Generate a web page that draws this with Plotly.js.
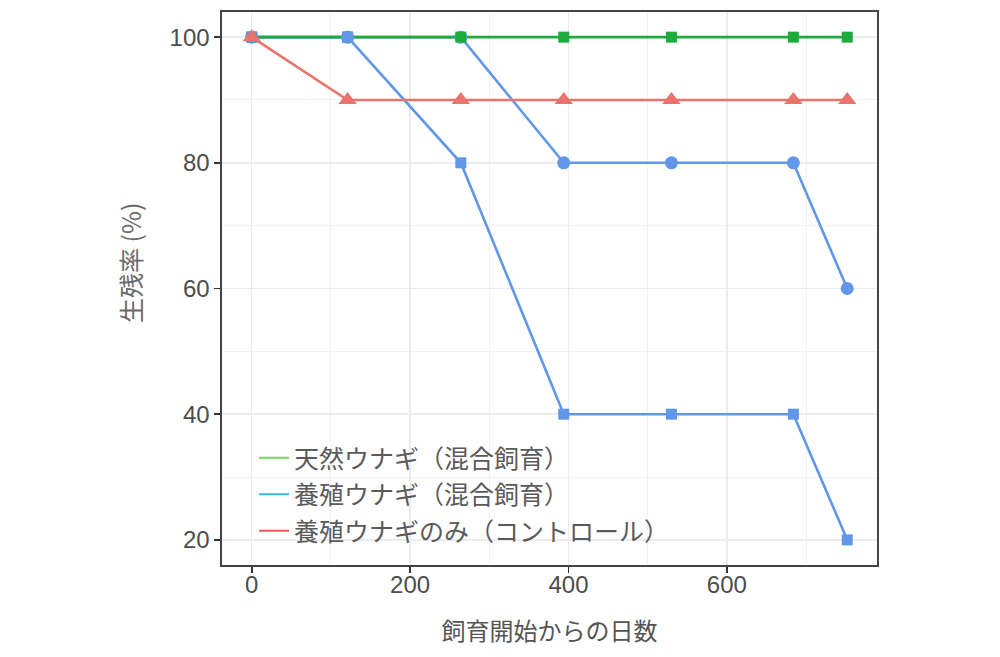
<!DOCTYPE html>
<html>
<head>
<meta charset="utf-8">
<script src="https://cdn.plot.ly/plotly-3.0.1.min.js"></script>
<style>html,body{margin:0;padding:0;background:#fff;}#chart{width:1000px;height:657px;}</style>
</head>
<body>
<div id="chart"></div>
<script>
// Data
const days = [0, 121, 264, 394, 530, 684, 752];
const wildMixed = [100, 100, 100, 100, 100, 100, 100];        // 天然ウナギ（混合飼育）
const farmedMixedSq = [100, 100, 80, 40, 40, 40, 20];         // 養殖ウナギ（混合飼育） squares
const farmedMixedCi = [100, 100, 100, 80, 80, 80, 60];        // 養殖ウナギ（混合飼育） circles
const farmedControl = [100, 90, 90, 90, 90, 90, 90];          // 養殖ウナギのみ（コントロール）
const legendNames = ['天然ウナギ（混合飼育）', '養殖ウナギ（混合飼育）', '養殖ウナギのみ（コントロール）'];
const xTicks = [0, 200, 400, 600];
const yTicks = [20, 40, 60, 80, 100];

const cGreen = '#1eab3e', cBlue = '#6197e8', cRed = '#e8746d';
const lGreen = '#7fd35a', lBlue = '#38b6f0', lRed = '#ee5a5a';
const jp = '"Noto Sans CJK JP", "Noto Sans", sans-serif';

function lineTrace(y, color) {
  return {x: days, y: y, mode: 'lines', showlegend: false, line: {color: color, width: 2.6}};
}
function markTrace(y, color, symbol, size) {
  return {x: days, y: y, mode: 'markers', showlegend: false,
          marker: {symbol: symbol, size: size, color: color, line: {width: 0}}};
}

const traces = [
  lineTrace(farmedMixedCi, cBlue),
  lineTrace(farmedMixedSq, cBlue),
  lineTrace(wildMixed, cGreen),
  lineTrace(farmedControl, cRed),
  markTrace(farmedMixedCi, cBlue, 'circle', 13),
  markTrace(wildMixed, cGreen, 'square', 11),
  markTrace(farmedMixedSq, cBlue, 'square', 11),
  markTrace(farmedControl, cRed, 'triangle-up', 16),
  {x: [null], y: [null], mode: 'lines', name: legendNames[0], legendgroup: 'a', line: {color: lGreen, width: 2}},
  {x: [null], y: [null], mode: 'lines', name: legendNames[1], legendgroup: 'b', line: {color: lBlue, width: 2}},
  {x: [null], y: [null], mode: 'lines', name: legendNames[2], legendgroup: 'c', line: {color: lRed, width: 2}}
];

const layout = {
  width: 1000, height: 657,
  margin: {l: 222, r: 123, t: 12, b: 92},
  paper_bgcolor: '#fff', plot_bgcolor: '#fff',
  font: {family: 'Liberation Sans, Arial, sans-serif', color: '#4d4d4d'},
  xaxis: {
    range: [-37.6, 789.6], tickvals: xTicks, ticktext: xTicks.map(String),
    ticks: 'outside', ticklen: 6, tickwidth: 1.8, tickcolor: '#333',
    tickfont: {size: 24, color: '#4d4d4d'}, ticklabelstandoff: -8,
    showgrid: true, gridcolor: '#ebebf0', gridwidth: 1.4,
    minor: {tickvals: [100, 300, 500, 700], showgrid: true, gridcolor: '#f2f2f5', gridwidth: 1, ticks: ''},
    showline: true, mirror: true, linecolor: '#444', linewidth: 1.6, zeroline: false,
    title: {text: '飼育開始からの日数', font: {family: jp, size: 24, color: '#555'}, standoff: 26}
  },
  yaxis: {
    range: [16, 104], tickvals: yTicks, ticktext: yTicks.map(String),
    ticks: 'outside', ticklen: 6, tickwidth: 1.8, tickcolor: '#333',
    tickfont: {size: 24, color: '#4d4d4d'},
    showgrid: true, gridcolor: '#ebebf0', gridwidth: 1.4,
    minor: {tickvals: [30, 50, 70, 90], showgrid: true, gridcolor: '#f2f2f5', gridwidth: 1, ticks: ''},
    showline: true, mirror: true, linecolor: '#444', linewidth: 1.6, zeroline: false
  },
  annotations: [{
    text: '生残率 (%)', textangle: -90, showarrow: false,
    xref: 'paper', yref: 'paper', xanchor: 'center', yanchor: 'middle',
    x: (130 - 222) / 655, y: (565 - 263) / 553,
    font: {family: jp, size: 25, color: '#6a6a6a'}
  }],
  shapes: [{
    type: 'rect', xref: 'paper', yref: 'paper', layer: 'between',
    x0: (233 - 222) / 655, x1: (708 - 222) / 655, y0: (565 - 556) / 553, y1: (565 - 432) / 553,
    fillcolor: '#ffffff', line: {width: 0}
  }],
  legend: {
    x: (254 - 222) / 655, y: (565 - 554) / 553, xanchor: 'left', yanchor: 'bottom',
    bgcolor: 'rgba(0,0,0,0)', borderwidth: 0,
    font: {family: jp, size: 25, color: '#5a5a5a'},
    itemwidth: 30, tracegroupgap: 1
  }
};

Plotly.newPlot('chart', traces, layout, {displayModeBar: false, staticPlot: true});
</script>
</body>
</html>
